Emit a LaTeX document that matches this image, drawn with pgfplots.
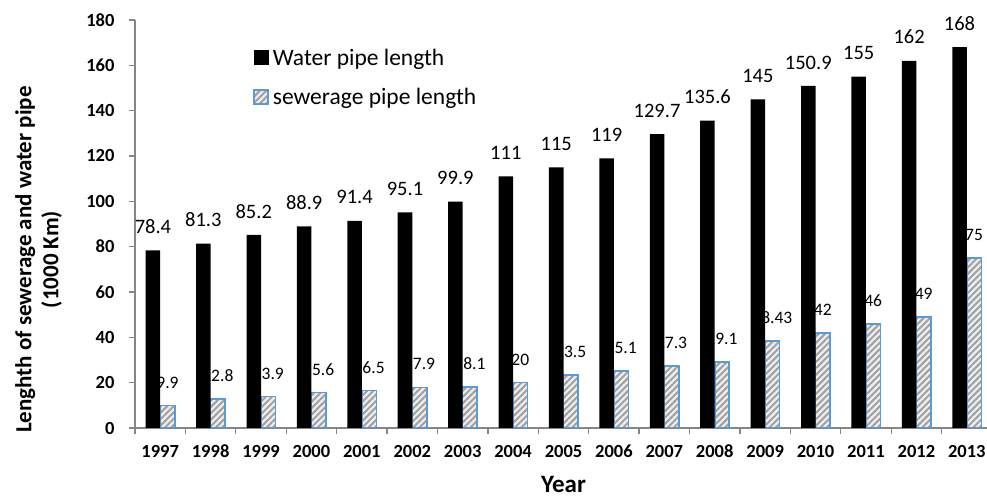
\documentclass[border=0pt]{standalone}
\usepackage{fontspec}
\setmainfont{Carlito}
\usepackage{pgfplots}
\pgfplotsset{compat=1.18}
\usetikzlibrary{patterns.meta}
\definecolor{axgray}{RGB}{134,134,134}
\definecolor{sewblue}{RGB}{91,155,213}
\definecolor{hatchgray}{RGB}{160,160,160}
\definecolor{hatchbg}{RGB}{238,238,238}
\tikzset{sewbar/.style={draw=sewblue, line width=1.6pt, preaction={fill=hatchbg},
  pattern={Lines[angle=45,distance=4.5pt,line width=2pt]}, pattern color=hatchgray}}
\begin{document}
\begin{tikzpicture}
\begin{axis}[
  name=ax,
  scale only axis, width=857pt, height=408pt,
  xmin=-0.5, xmax=16.5, ymin=0, ymax=180,
  axis x line*=bottom, axis y line*=left,
  axis line style={axgray, line width=1.3pt},
  /pgf/number format/assume math mode=true,
  xtick={0,...,16},
  xticklabels={1997,1998,1999,2000,2001,2002,2003,2004,2005,2006,2007,2008,2009,2010,2011,2012,2013},
  major x tick style={draw=none},
  minor xtick={-0.5,0.5,1.5,2.5,3.5,4.5,5.5,6.5,7.5,8.5,9.5,10.5,11.5,12.5,13.5,14.5,15.5,16.5},
  ytick={0,20,...,180},
  tick align=outside,
  major tick length=6pt, minor tick length=6pt,
  tick style={axgray, line width=1.3pt},
  xticklabel style={font=\fontsize{18.5}{20}\selectfont\bfseries, text=black, anchor=north, text height=13pt, text depth=0pt, yshift=-7pt},
  yticklabel style={font=\fontsize{18.5}{20}\selectfont\bfseries, text=black, xshift=-11pt},
  xlabel={Year},
  xlabel style={font=\fontsize{25}{28}\selectfont\bfseries, at={(axis description cs:0.5,0)}, anchor=base, yshift=-64pt},
  ylabel={Lenghth of sewerage and water pipe\\(1000 Km)},
  ylabel style={font=\fontsize{23}{27}\selectfont\bfseries, align=center, inner sep=0pt, at={(axis description cs:-0.085,0.413)}, anchor=south},
  legend style={at={(axis description cs:0.134,0.944)}, anchor=north west, draw=none, fill=none,
    font=\fontsize{23.5}{26}\selectfont, row sep=13pt, legend cell align=left,
    nodes={inner sep=4pt}},
  reverse legend,
  every node near coord/.append style={text=black, inner sep=0pt, yshift=16.5pt},
]
\addplot[ybar, bar width=0.288, bar shift=0.144, sewbar,
  nodes near coords, every node near coord/.append style={font=\fontsize{17.5}{20}\selectfont, xshift=7.26pt},
  legend image code/.code={\draw[sewbar] (0pt,-7pt) rectangle (14pt,7pt);}]
coordinates {(0,9.9) (1,12.8) (2,13.9) (3,15.6) (4,16.5) (5,17.9) (6,18.1) (7,20) (8,23.5) (9,25.1) (10,27.3) (11,29.1) (12,38.43) (13,42) (14,46) (15,49) (16,75)};
\addlegendentry{sewerage pipe length}
\addplot[ybar, bar width=0.288, bar shift=-0.144, draw=none, fill=black,
  nodes near coords, every node near coord/.append style={font=\fontsize{20.5}{22}\selectfont, xshift=-7.26pt},
  legend image code/.code={\fill[black] (0pt,-7.5pt) rectangle (15pt,7.5pt);}]
coordinates {(0,78.4) (1,81.3) (2,85.2) (3,88.9) (4,91.4) (5,95.1) (6,99.9) (7,111) (8,115) (9,119) (10,129.7) (11,135.6) (12,145) (13,150.9) (14,155) (15,162) (16,168)};
\addlegendentry{Water pipe length}
\end{axis}
\pgfresetboundingbox
\path (ax.south west) ++(-135pt,-69pt) rectangle ++(987pt,497pt);
\end{tikzpicture}
\end{document}
